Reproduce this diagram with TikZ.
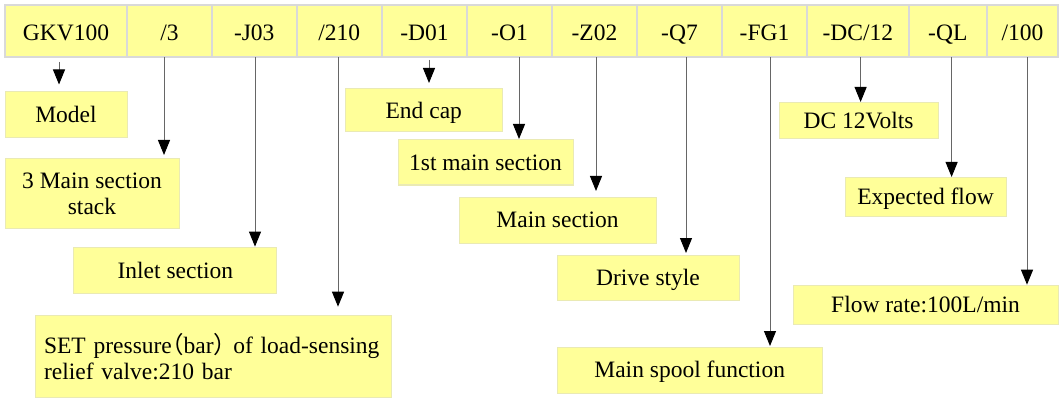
\documentclass[tikz,border=0pt]{standalone}
\usepackage{fontspec}
\setmainfont{Liberation Serif}
\newfontfamily\cjkp[RawFeature=+halt]{Noto Sans CJK SC}
\usetikzlibrary{arrows.meta}
\definecolor{boxyellow}{HTML}{FFFF99}
\definecolor{boxedge}{HTML}{EAEAB4}
\definecolor{cellgray}{HTML}{D9D9D9}
\definecolor{linegray}{HTML}{666666}
\begin{document}
\begin{tikzpicture}[x=1pt,y=-1pt,
  every node/.style={font=\fontsize{23.5}{25.5}\selectfont, inner sep=0pt, outer sep=0pt},
  cell/.style={fill=boxyellow, draw=cellgray, line width=2pt, minimum height=52pt, text height=20pt, text depth=0pt},
  lbl/.style={fill=boxyellow, draw=boxedge, line width=1pt, text height=17pt, text depth=1.4pt},
  lblm/.style={fill=boxyellow, draw=boxedge, line width=1pt},
  arr/.style={draw=linegray, line width=1pt, -{Triangle[width=12pt,length=15pt,color=black]}}]
\useasboundingbox (0,0) rectangle (1059,398);
\fill[white] (0,0) rectangle (1059,398);
% top code cells
\draw[cellgray, line width=2pt] (5,5) rectangle (1058,57);
\node[cell, minimum width=122pt]  (c1)  at (66,31)     {GKV100};
\node[cell, minimum width=85pt]   (c2)  at (169.5,31)  {/3};
\node[cell, minimum width=84.5pt] (c3)  at (254.25,31) {-J03};
\node[cell, minimum width=85.5pt] (c4)  at (339.25,31) {/210};
\node[cell, minimum width=85pt]   (c5)  at (424.5,31)  {-D01};
\node[cell, minimum width=85pt]   (c6)  at (509.5,31)  {-O1};
\node[cell, minimum width=85pt]   (c7)  at (594.5,31)  {-Z02};
\node[cell, minimum width=85pt]   (c8)  at (679.5,31)  {-Q7};
\node[cell, minimum width=85pt]   (c9)  at (764.5,31)  {-FG1};
\node[cell, minimum width=101.6pt](c10) at (857.8,31)  {-DC/12};
\node[cell, minimum width=78.4pt] (c11) at (947.8,31)  {-QL};
\node[cell, minimum width=71pt]   (c12) at (1022.5,31) {/100};
% label boxes
\node[lbl, minimum width=122pt, minimum height=46pt]   (b1)  at (66,115)     {Model};
\node[lblm, minimum width=174pt, minimum height=70pt, align=center] (b2) at (92,193.6) {3 Main section\\stack};
\node[lbl, minimum width=203pt, minimum height=46pt]   (b3)  at (175.3,270.6) {Inlet section};
\node[lblm, minimum height=81.2pt, text width=338.5pt, inner xsep=8.5pt, align=left] (b4) at (213.25,356.4)
  {SET pressure{\cjkp （}bar{\cjkp ）} of load-sensing\\relief valve:210 bar};
\node[lbl, minimum width=156.5pt, minimum height=43.4pt] (b5) at (423.75,110.3) {End cap};
\node[lbl, minimum width=175pt, minimum height=45pt]   (b6)  at (485.5,162.5) {1st main section};
\node[lbl, minimum width=197pt, minimum height=46pt]   (b7)  at (557.5,220)   {Main section};
\node[lbl, minimum width=182pt, minimum height=45.6pt] (b8)  at (648,277.8)   {Drive style};
\node[lbl, minimum width=265.4pt, minimum height=46pt] (b9)  at (689.7,370)   {Main spool function};
\node[lbl, minimum width=159pt, minimum height=36pt]   (b10) at (858.5,121)   {DC 12Volts};
\node[lbl, minimum width=161pt, minimum height=38pt]   (b11) at (925.5,197)   {Expected flow};
\node[lbl, minimum width=265pt, minimum height=38.6pt] (b12) at (925.5,304.7) {Flow rate:100L/min};
% connectors
\draw[arr, shorten <=5pt, shorten >=7.5pt] (c1.south -| 59,0)   -- (b1.north -| 59,0);
\draw[arr, shorten >=3.6pt]                (c2.south -| 164,0)  -- (b2.north -| 164,0);
\draw[arr, shorten >=1pt]                  (c3.south -| 255,0)  -- (b3.north -| 255,0);
\draw[arr, shorten >=9.1pt]                (c4.south -| 338,0)  -- (b4.north -| 338,0);
\draw[arr, shorten <=3pt, shorten >=5.6pt] (c5.south -| 429,0)  -- (b5.north -| 429,0);
\draw[arr, shorten >=1pt]                  (c6.south -| 519,0)  -- (b6.north -| 519,0);
\draw[arr, shorten >=6pt]                  (c7.south -| 596,0)  -- (b7.north -| 596,0);
\draw[arr, shorten >=2pt]                  (c8.south -| 686,0)  -- (b8.north -| 686,0);
\draw[arr, shorten >=1pt]                  (c9.south -| 770,0)  -- (b9.north -| 770,0);
\draw[arr, shorten >=1pt]                  (c10.south -| 860.6,0) -- (b10.north -| 860.6,0);
\draw[arr, shorten >=1pt]                  (c11.south -| 951.6,0) -- (b11.north -| 951.6,0);
\draw[arr, shorten >=0.7pt]                (c12.south -| 1027,0)  -- (b12.north -| 1027,0);
\end{tikzpicture}
\end{document}
